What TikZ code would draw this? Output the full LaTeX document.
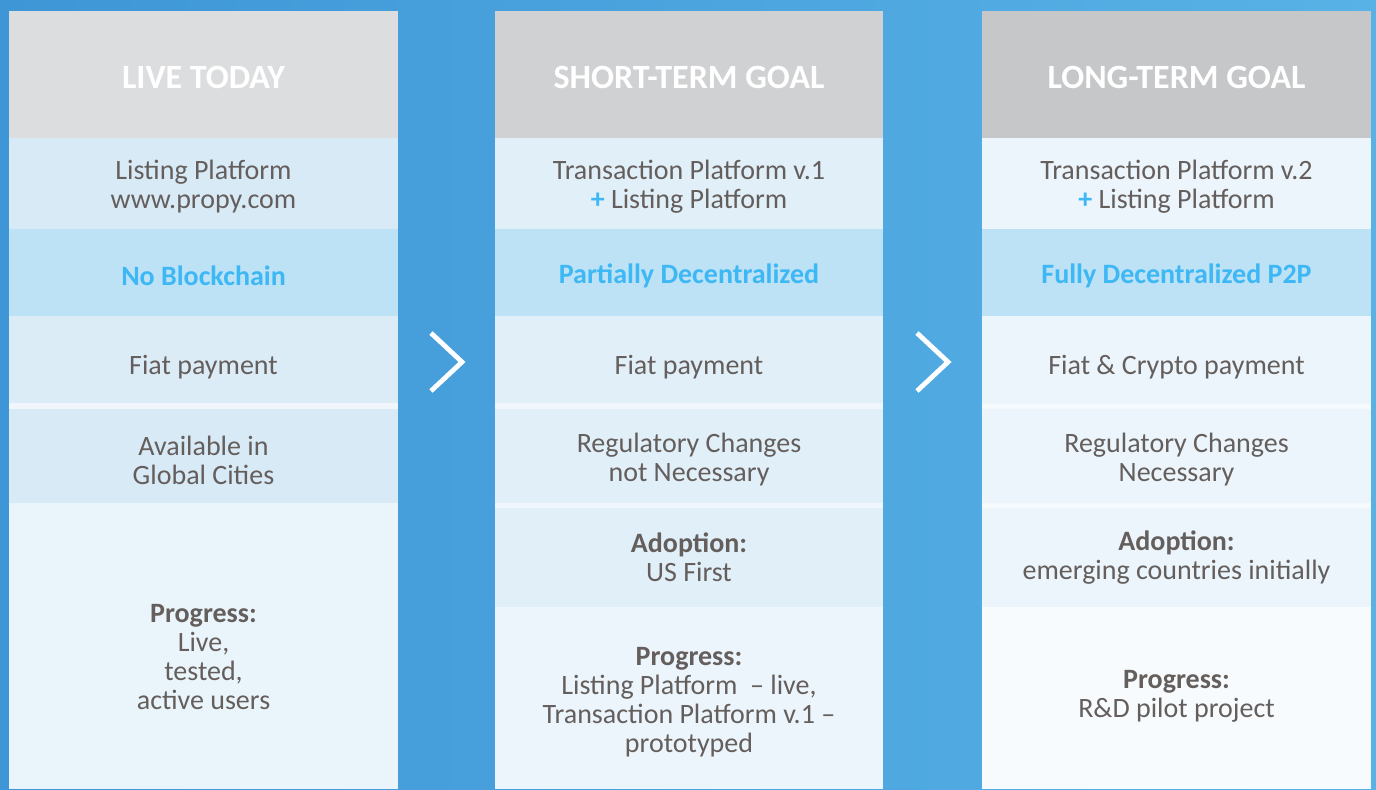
\documentclass[tikz,border=0pt]{standalone}
\usepackage{fontspec}
\setmainfont{Carlito}
\usetikzlibrary{positioning}

\definecolor{bgleft}{RGB}{62,150,214}
\definecolor{bgright}{RGB}{88,178,230}
\definecolor{txtgray}{RGB}{100,94,92}
\definecolor{hiblue}{RGB}{61,184,244}
\definecolor{headA}{RGB}{220,221,223}
\definecolor{headB}{RGB}{208,209,211}
\definecolor{headC}{RGB}{198,199,201}
\definecolor{rowA}{RGB}{216,234,246}
\definecolor{rowB}{RGB}{225,239,248}
\definecolor{rowC}{RGB}{235,245,251}
\definecolor{rowhi}{RGB}{189,225,245}
\definecolor{gapline}{RGB}{240,246,251}

\tikzset{every picture/.style={line width=0.75pt}}
\tikzset{
  celltext/.style={inner sep=0.75pt, align=center, text=txtgray, font=\fontsize{21}{21.75}\selectfont},
  headtext/.style={inner sep=0.75pt, align=center, text=white, font=\fontsize{25.5}{27}\selectfont\bfseries},
  keytext/.style={inner sep=0.75pt, align=center, text=hiblue, font=\fontsize{21}{21.75}\selectfont\bfseries},
  chevron/.style={draw=white, line width=3.6pt, line cap=butt, line join=miter}
}

\begin{document}
\begin{tikzpicture}[x=0.75pt,y=0.75pt,yscale=-1,xscale=1]
\useasboundingbox (0,0) rectangle (1376,789);

%Background
\shade [left color=bgleft, right color=bgright] (0,0) rectangle (1376,789);

%Shape: Column one
\fill [headA] (9,11) rectangle (398,138);
\fill [rowA] (9,138) rectangle (398,229);
\fill [rowhi] (9,229) rectangle (398,316);
\fill [rowA!90!white] (9,316) rectangle (398,403);
\fill [gapline] (9,403) rectangle (398,409);
\fill [rowA] (9,409) rectangle (398,503);
\fill [rowC!95!rowA] (9,503) rectangle (398,789);

%Shape: Column two
\fill [headB] (495,11) rectangle (883,138);
\fill [rowB] (495,138) rectangle (883,229);
\fill [rowhi] (495,229) rectangle (883,316);
\fill [rowB] (495,316) rectangle (883,403);
\fill [gapline] (495,403) rectangle (883,409);
\fill [rowB] (495,409) rectangle (883,503);
\fill [gapline] (495,503) rectangle (883,508);
\fill [rowB] (495,508) rectangle (883,607);
\fill [rowC] (495,607) rectangle (883,789);

%Shape: Column three
\fill [headC] (982,11) rectangle (1371,138);
\fill [rowC] (982,138) rectangle (1371,229);
\fill [rowhi] (982,229) rectangle (1371,316);
\fill [rowC] (982,316) rectangle (1371,404);
\fill [gapline!60!white] (982,404) rectangle (1371,409);
\fill [rowC] (982,409) rectangle (1371,503);
\fill [gapline!60!white] (982,503) rectangle (1371,508);
\fill [rowC] (982,508) rectangle (1371,607);
\fill [rowC!40!white] (982,607) rectangle (1371,789);

%Shape: Chevrons
\draw [chevron] (431,333) -- (462,362) -- (431,391);
\draw [chevron] (917,333) -- (948,362) -- (917,391);

% Text Node
\node [headtext] (liveHead) at (203.5,77) {LIVE TODAY};
\node [celltext] (liveListing) at (203.5,187) {Listing Platform\\www.propy.com};
\node [keytext] (liveChain) at (203.5,276) {No Blockchain};
\node [celltext] (livePay) at (203.5,367) {Fiat payment};
\node [celltext] (liveCities) at (203.5,460) {Available in\\Global Cities};
\node [celltext] (liveProgress) at (203.5,657) {\textbf{Progress:}\\Live,\\tested,\\active users};

% Text Node
\node [headtext] (shortHead) at (689,77) {SHORT-TERM GOAL};
\node [celltext] (shortPlatform) at (689,187) {Transaction Platform v.1\\{\color{hiblue}\textbf{+}} Listing Platform};
\node [keytext] (shortChain) at (689,276) {Partially Decentralized};
\node [celltext] (shortPay) at (689,367) {Fiat payment};
\node [celltext] (shortRules) at (689,460) {Regulatory Changes\\not Necessary};
\node [celltext] (shortAdopt) at (689,557) {\textbf{Adoption:}\\US First};
\node [celltext] (shortProgress) at (689,702) {\textbf{Progress:}\\Listing Platform~ – live,\\Transaction Platform v.1 –\\prototyped};

% Text Node
\node [headtext] (longHead) at (1176.5,77) {LONG-TERM GOAL};
\node [celltext] (longPlatform) at (1176.5,187) {Transaction Platform v.2\\{\color{hiblue}\textbf{+}} Listing Platform};
\node [keytext] (longChain) at (1176.5,276) {Fully Decentralized P2P};
\node [celltext] (longPay) at (1176.5,367) {Fiat \& Crypto payment};
\node [celltext] (longRules) at (1176.5,460) {Regulatory Changes\\Necessary};
\node [celltext] (longAdopt) at (1176.5,558) {\textbf{Adoption:}\\emerging countries initially};
\node [celltext] (longProgress) at (1176.5,696) {\textbf{Progress:}\\R\&D pilot project};

\end{tikzpicture}
\end{document}
